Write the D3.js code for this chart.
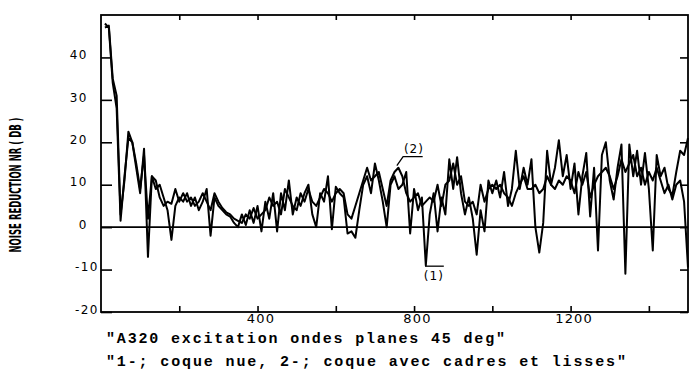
<!DOCTYPE html>
<html>
<head>
<meta charset="utf-8">
<script src="https://cdn.jsdelivr.net/npm/d3@7"></script>
<style>
  body { margin: 0; background: #fff; }
  svg { display: block; }
  .tick text { font-family: "DejaVu Sans", sans-serif; fill: #000; }
  .tick line { stroke: #000; stroke-width: 1.6; }
  .caption { font-family: "Liberation Mono", monospace; font-weight: bold; font-size: 15px; fill: #000; }
</style>
</head>
<body>
<div id="chart"></div>
<script>
// frequency grid (Hz) and the two noise reduction curves (dB)
const freq = d3.range(10, 1501, 10);
const bareShell = [
  48, 47, 34, 28, 1.5, 12, 21, 20, 14, 8, 18.5, -7, 12, 9, 10, 7, 4, -3, 5, 7,
  6, 8, 5, 7, 4, 6, 9, -2, 7, 5, 4, 3, 2.5, 1, 0, 3, 0.5, 4, 1, 5,
  -1, 6, 2, 8, -1, 8, 4, 11, 3, 7, 5, 8, 10, 3, 0, 8, 6, 12, -0.5, 9.5,
  8, 7, -1.5, -1, -2.5, 4, 10, 12, 8, 15, 11, 6, 0, 10, 12, 9, 10, 13, -1.5, 9,
  4, 7, -9, 3, 8, -1, 7, 3, 16, 9, 16.5, 8, 3, 7, 2, -6.5, 4, -1, 11, 8,
  11, 7, 13, 5, 9, 18, 9, 14, 10, 16, 0, -6, 1, 18, 10, 14, 20.5, 12, 17, 9,
  15, 3, 12, 17.5, 2.5, 14, -5.5, 17, 20, 11, 6.5, 14, 19.5, -11, 19.5, 12, 18, 10, 17.5, 9,
  -5.5, 17, 12, 14, 9, 7.5, 13, 18, 17, 21
];
const framedShell = [
  47, 47.5, 35, 31, 3, 11, 22.5, 20, 15, 9, 17, 2, 12, 11, 7, 5, 6, 5.5, 9, 6,
  8, 6, 7, 5, 6, 8, 6, 4, 8, 6, 4.5, 3.5, 3, 2, 1.5, 1, 3, 2, 4.5, 2,
  3, 4, 7, 5, 6, 3, 9, 7, 5, 4, 8, 6, 9, 6, 5, 7, 9, 8, 6, 8,
  9, 8, 3, 2, 5, 8, 11, 14, 11, 12, 13, 9, 5, 11, 13, 14, 12, 8, 6, 7,
  8, 5, 6, 7, 6, 10, 5, 10, 11, 15, 10, 12, 6, 5, 6, 3, 10, 6, 9, 10,
  9, 10, 8, 7, 5, 8, 10, 12, 9, 9, 10, 8, 9, 12, 10, 9, 11, 10, 12, 11,
  8, 13, 10, 13, 7, 10, 12, 13, 14, 12, 9, 12, 16, 13, 15, 17, 12, 14, 10, 13,
  11, 14, 11, 8, 10, 6.5, 10, 11, 6, -9.5
];
const yTicks = [-20, -10, 0, 10, 20, 30, 40];
const xTicks = [200, 400, 600, 800, 1000, 1200, 1400];
const xLabels = [400, 800, 1200];
const yTitle = "NOISE REDUCTION NR ( DB )";
const caption1 = "\"A320 excitation ondes planes 45 deg\"";
const caption2 = "\"1-; coque nue, 2-; coque avec cadres et lisses\"";

const W = 689, H = 370;
const mLeft = 101, mRight = 688, mTop = 15, mBottom = 312;

const svg = d3.select("#chart").append("svg")
  .attr("width", W)
  .attr("height", H);

const x = d3.scaleLinear().domain([0, 1500]).range([mLeft, mRight]);
const y = d3.scaleLinear().domain([-20, 50]).range([mBottom, mTop]);

// frame
svg.append("rect")
  .attr("x", mLeft).attr("y", mTop)
  .attr("width", mRight - mLeft).attr("height", mBottom - mTop)
  .attr("fill", "none").attr("stroke", "#000").attr("stroke-width", 1.8);

// zero line
svg.append("line")
  .attr("x1", mLeft).attr("x2", mRight)
  .attr("y1", y(0)).attr("y2", y(0))
  .attr("stroke", "#000").attr("stroke-width", 1.6);

// left axis, inward ticks
const yAxis = svg.append("g")
  .attr("transform", `translate(${mLeft},0)`)
  .call(d3.axisLeft(y).tickValues(yTicks).tickSize(-11).tickPadding(13).tickFormat(d => String(d)));
yAxis.select(".domain").remove();
yAxis.selectAll("text")
  .attr("font-size", 12)
  .attr("letter-spacing", 1.5)
  .attr("dy", "0.1em")
  .attr("x", d => d < 0 ? -2 : -13);

// right axis
const yAxisR = svg.append("g")
  .attr("transform", `translate(${mRight},0)`)
  .call(d3.axisRight(y).tickValues(yTicks).tickSize(-8).tickFormat(""));
yAxisR.select(".domain").remove();

// top axis
const xAxisT = svg.append("g")
  .attr("transform", `translate(0,${mTop})`)
  .call(d3.axisTop(x).tickValues(xTicks).tickSize(-5).tickFormat(""));
xAxisT.select(".domain").remove();

// bottom axis
const xAxis = svg.append("g")
  .attr("transform", `translate(0,${mBottom})`)
  .call(d3.axisBottom(x).tickValues(xTicks).tickSize(-6).tickPadding(2)
    .tickFormat(d => xLabels.includes(d) ? String(d) : ""));
xAxis.select(".domain").remove();
xAxis.selectAll("text")
  .attr("font-size", 13)
  .attr("letter-spacing", 1.2)
  .attr("dx", 3);

// curves
const line = d3.line()
  .x((d, i) => x(freq[i]))
  .y(d => y(d));

[bareShell, framedShell].forEach(series => {
  svg.append("path")
    .datum(series.slice(0, freq.length))
    .attr("d", line)
    .attr("fill", "none")
    .attr("stroke", "#000")
    .attr("stroke-width", 2)
    .attr("stroke-linejoin", "round");
});

// curve annotations
const ann = svg.append("g")
  .attr("font-family", "DejaVu Sans, sans-serif")
  .attr("font-size", 12)
  .attr("letter-spacing", 1);
// (2) with underline leader
ann.append("path")
  .attr("d", `M${x(756)},${y(14.5)} L${x(772)},${y(16.6)} L${x(822)},${y(16.6)}`)
  .attr("fill", "none").attr("stroke", "#000").attr("stroke-width", 1.3);
ann.append("text")
  .attr("x", x(774)).attr("y", y(17.4))
  .text("(2)");
// (1) with overline on the dip
ann.append("path")
  .attr("d", `M${x(828)},${y(-9.2)} L${x(876)},${y(-9.2)}`)
  .attr("fill", "none").attr("stroke", "#000").attr("stroke-width", 1.3);
ann.append("text")
  .attr("x", x(825)).attr("y", y(-12.5))
  .text("(1)");

// y title
svg.append("text")
  .attr("transform", "translate(21,185) rotate(-90)")
  .attr("text-anchor", "middle")
  .attr("font-family", "DejaVu Sans Condensed, DejaVu Sans, sans-serif")
  .attr("font-weight", "bold")
  .attr("font-size", 15)
  .attr("textLength", 135)
  .attr("lengthAdjust", "spacingAndGlyphs")
  .text(yTitle);

// captions
svg.append("text").attr("class", "caption")
  .attr("x", 106).attr("y", 343)
  .attr("textLength", 399).attr("lengthAdjust", "spacing")
  .text(caption1);
svg.append("text").attr("class", "caption")
  .attr("x", 106).attr("y", 366)
  .attr("textLength", 520).attr("lengthAdjust", "spacing")
  .text(caption2);
</script>
</body>
</html>
